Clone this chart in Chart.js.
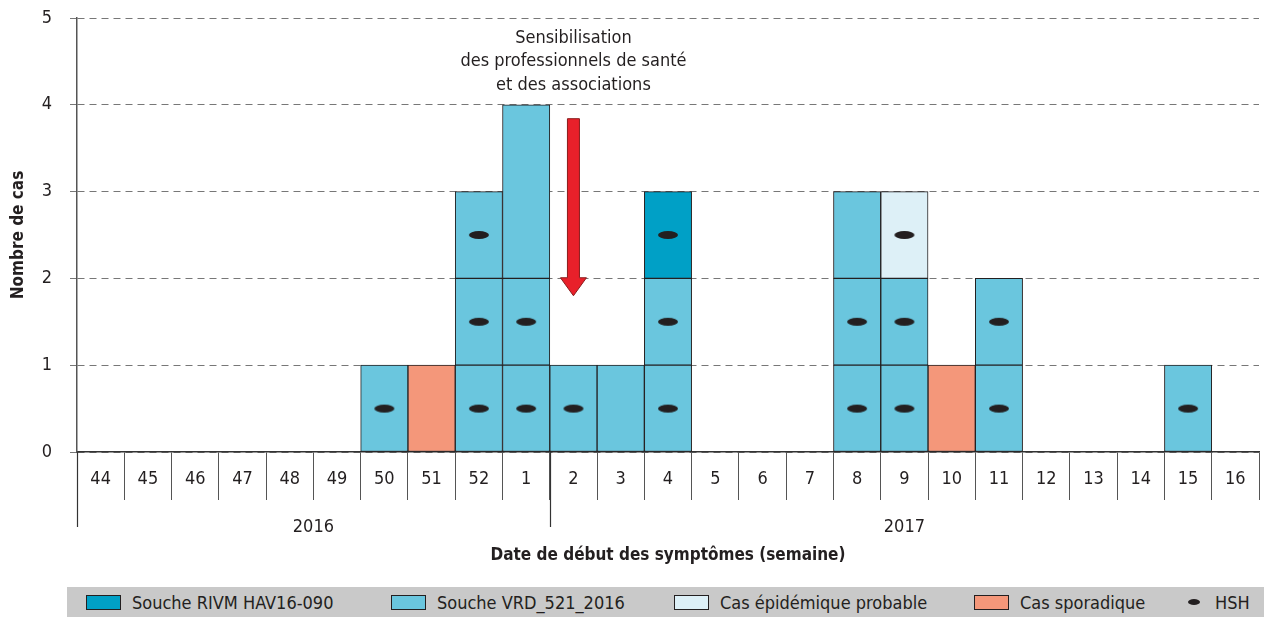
<!DOCTYPE html>
<html lang="fr">
<head>
<meta charset="utf-8">
<title>Cas par semaine de début des symptômes</title>
<script src="https://cdn.jsdelivr.net/npm/chart.js@4.4.1/dist/chart.umd.min.js"></script>
<style>
  html, body { margin: 0; padding: 0; background: #fff; }
  #wrap { position: relative; width: 1264px; height: 617px; }
  #legend {
    position: absolute; left: 67px; top: 587px; width: 1197px; height: 30px;
    background: #c9c9c9; color: #231f20;
    font: 18px 'Liberation Sans Narrow', 'DejaVu Sans Condensed', sans-serif;
  }
  .item { position: absolute; top: 0; height: 30px; display: flex; align-items: center; white-space: nowrap; }
  .sw { width: 33px; height: 13px; border: 1px solid #231f20; margin-right: 11px; }
  .dot { width: 12px; height: 6px; border-radius: 50%; background: #231f20; margin-right: 15px; }
</style>
</head>
<body>
<div id="wrap">
  <canvas id="chart" width="1264" height="587"></canvas>
  <div id="legend"></div>
</div>
<script>
const FONT = "'Liberation Sans Narrow', 'DejaVu Sans Condensed', sans-serif";
const INK = '#231f20';

// semaines (2016 : 44-52, 2017 : 1-16)
const weeks = ['44', '45', '46', '47', '48', '49', '50', '51', '52', '1', '2', '3', '4',
  '5', '6', '7', '8', '9', '10', '11', '12', '13', '14', '15', '16'];
const vrd      = [0, 0, 0, 0, 0, 0, 1, 0, 3, 4, 1, 1, 2, 0, 0, 0, 3, 2, 0, 2, 0, 0, 0, 1, 0];
const rivm     = [0, 0, 0, 0, 0, 0, 0, 0, 0, 0, 0, 0, 1, 0, 0, 0, 0, 0, 0, 0, 0, 0, 0, 0, 0];
const probable = [0, 0, 0, 0, 0, 0, 0, 0, 0, 0, 0, 0, 0, 0, 0, 0, 0, 1, 0, 0, 0, 0, 0, 0, 0];
const sporadic = [0, 0, 0, 0, 0, 0, 0, 1, 0, 0, 0, 0, 0, 0, 0, 0, 0, 0, 1, 0, 0, 0, 0, 0, 0];
// nombre de cas HSH (comptés depuis le bas de la barre)
const hsh      = [0, 0, 0, 0, 0, 0, 1, 0, 3, 2, 1, 0, 3, 0, 0, 0, 2, 3, 0, 2, 0, 0, 0, 1, 0];
// semaines où les deux cases du haut forment un seul bloc
const joinedTop = ['1'];

const years = ['2016', '2017'];
const yearBounds = [-0.5, 9.5, 24.5];   // limites en index de catégorie

const legendLabels = ['Souche RIVM HAV16-090', 'Souche VRD_521_2016', 'Cas épidémique probable', 'Cas sporadique', 'HSH'];
const legendLeft = [19, 324, 607, 907, 1121];

const annotationLines = ['Sensibilisation', 'des professionnels de santé', 'et des associations'];
const annotationWeek = '2';
const arrowFrom = 3.84, arrowTo = 1.8;

const colors = { rivm: '#00a0c6', vrd: '#6ac6de', probable: '#ddf0f7', sporadic: '#f4977a' };

// une case par cas, empilées de bas en haut : {type, from, to}
const cells = weeks.map((w, j) => {
  const c = [];
  const add = (type, n) => {
    for (let k = 0; k < n; k++) c.push({ type, from: c.length, to: c.length + 1 });
  };
  add('vrd', vrd[j]);
  add('rivm', rivm[j]);
  add('probable', probable[j]);
  add('sporadic', sporadic[j]);
  if (joinedTop.includes(w) && c.length > 1) {
    const last = c.pop();
    c[c.length - 1].to = last.to;
  }
  return c;
});
const levels = Math.max(...cells.map(c => c.length));

const datasets = [];
for (let i = 0; i < levels; i++) {
  datasets.push({
    type: 'bar',
    data: weeks.map((w, j) => cells[j][i] ? [cells[j][i].from, cells[j][i].to] : null),
    backgroundColor: weeks.map((w, j) => cells[j][i] ? colors[cells[j][i].type] : 'transparent'),
    borderColor: INK,
    borderWidth: 1,
    borderSkipped: false,
    grouped: false,
    categoryPercentage: 1,
    barPercentage: 1,
    order: 2
  });
}

// marqueur HSH (ellipse noire)
const dot = document.createElement('canvas');
dot.width = 22; dot.height = 10;
const dctx = dot.getContext('2d');
dctx.fillStyle = INK;
dctx.beginPath();
dctx.ellipse(11, 5, 10, 4, 0, 0, Math.PI * 2);
dctx.fill();

const hshPoints = [];
weeks.forEach((w, j) => {
  for (let k = 0; k < hsh[j]; k++) hshPoints.push({ x: w, y: k + 0.5 });
});
datasets.push({
  type: 'line',
  data: hshPoints,
  showLine: false,
  pointStyle: dot,
  order: 0
});

const extras = {
  id: 'extras',
  afterDatasetsDraw(chart) {
    const ctx = chart.ctx;
    const x = chart.scales.x, y = chart.scales.y;

    // flèche rouge
    const ax = x.getPixelForValue(weeks.indexOf(annotationWeek));
    const top = y.getPixelForValue(arrowFrom), tip = y.getPixelForValue(arrowTo);
    const headLen = 18, shaft = 6, head = 13;
    ctx.save();
    ctx.beginPath();
    ctx.moveTo(ax - shaft, top);
    ctx.lineTo(ax + shaft, top);
    ctx.lineTo(ax + shaft, tip - headLen);
    ctx.lineTo(ax + head, tip - headLen);
    ctx.lineTo(ax, tip);
    ctx.lineTo(ax - head, tip - headLen);
    ctx.lineTo(ax - shaft, tip - headLen);
    ctx.closePath();
    ctx.fillStyle = '#e8202a';
    ctx.fill();
    ctx.strokeStyle = '#8a1c1c';
    ctx.lineWidth = 1;
    ctx.stroke();

    ctx.fillStyle = INK;
    ctx.font = '18px ' + FONT;
    ctx.textAlign = 'center';
    ctx.textBaseline = 'middle';
    annotationLines.forEach((t, i) => ctx.fillText(t, ax, 38 + i * 23.5));
    ctx.restore();
  },
  afterDraw(chart) {
    const ctx = chart.ctx;
    const x = chart.scales.x;
    const base = chart.chartArea.bottom;
    ctx.save();
    ctx.strokeStyle = '#333';
    ctx.lineWidth = 1.2;
    yearBounds.slice(0, -1).forEach(b => {
      const px = Math.round(x.getPixelForValue(b)) + 0.5;
      ctx.beginPath();
      ctx.moveTo(px, base);
      ctx.lineTo(px, base + 75);
      ctx.stroke();
    });
    ctx.fillStyle = INK;
    ctx.font = '18px ' + FONT;
    ctx.textAlign = 'center';
    ctx.textBaseline = 'middle';
    years.forEach((yr, i) => {
      const mid = (x.getPixelForValue(yearBounds[i]) + x.getPixelForValue(yearBounds[i + 1])) / 2;
      ctx.fillText(yr, mid, base + 75);
    });
    ctx.restore();
  }
};

new Chart(document.getElementById('chart'), {
  data: { labels: weeks, datasets },
  options: {
    responsive: false,
    animation: false,
    devicePixelRatio: 1,
    layout: { padding: { left: 0, right: 0, top: 18, bottom: 17 } },
    plugins: { legend: { display: false }, tooltip: { enabled: false } },
    scales: {
      x: {
        type: 'category',
        offset: true,
        afterFit(s) { s.height = 118; s.paddingLeft = 0; s.paddingRight = 0; },
        grid: { offset: true, drawOnChartArea: false, tickLength: 48, color: '#555', lineWidth: 1 },
        border: { color: '#333', width: 1.5 },
        ticks: { padding: -31, color: INK, font: { family: FONT, size: 18 }, maxRotation: 0, autoSkip: false },
        title: {
          display: true,
          text: 'Date de début des symptômes (semaine)',
          color: INK,
          font: { family: FONT, size: 17, weight: 'bold' },
          padding: { top: 4, bottom: 4 }
        }
      },
      y: {
        min: 0,
        max: 5,
        afterFit(s) { s.width = 77; s.paddingTop = 0; s.paddingBottom = 0; },
        ticks: { stepSize: 1, padding: 18, color: INK, font: { family: FONT, size: 18 } },
        grid: { color: '#777', lineWidth: 1, tickLength: 7 },
        border: { color: '#555', width: 1.5, dash: [7, 5] },
        title: {
          display: true,
          text: 'Nombre de cas',
          color: INK,
          font: { family: FONT, size: 17, weight: 'bold' },
          padding: { top: 8, bottom: 4 }
        }
      }
    }
  },
  plugins: [extras]
});

// légende
const legend = document.getElementById('legend');
const legendKeys = ['rivm', 'vrd', 'probable', 'sporadic', 'hsh'];
legendLabels.forEach((label, i) => {
  const item = document.createElement('div');
  item.className = 'item';
  item.style.left = legendLeft[i] + 'px';
  const mark = document.createElement('span');
  if (legendKeys[i] === 'hsh') {
    mark.className = 'dot';
  } else {
    mark.className = 'sw';
    mark.style.background = colors[legendKeys[i]];
  }
  item.appendChild(mark);
  item.appendChild(document.createTextNode(label));
  legend.appendChild(item);
});
</script>
</body>
</html>
